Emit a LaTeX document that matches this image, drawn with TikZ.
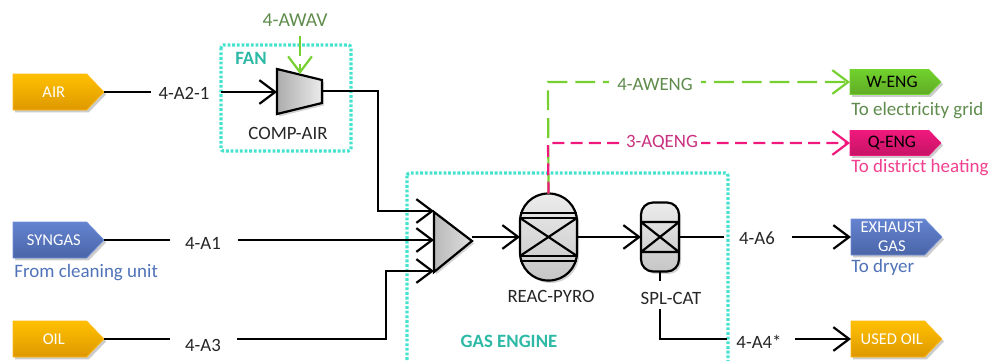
\documentclass[tikz,border=0pt]{standalone}
\usepackage{fontspec}
\setmainfont{Carlito}
\usepackage{xcolor}
\usetikzlibrary{arrows.meta,shapes.symbols,shadows}
\definecolor{tealbox}{HTML}{45E2D0}
\definecolor{tealtxt}{HTML}{2DB9A6}
\definecolor{greenline}{HTML}{76D02F}
\definecolor{greentxt}{HTML}{5F8B4C}
\definecolor{pinkline}{HTML}{F0187C}
\definecolor{pinktxt}{HTML}{F0408F}
\definecolor{pinkdark}{HTML}{C9307F}
\definecolor{bluetxt}{HTML}{4F72B8}
\definecolor{darktxt}{HTML}{262626}
\definecolor{orangetop}{HTML}{FFC000}
\definecolor{orangelow}{HTML}{DE9800}
\definecolor{orangeline}{HTML}{FFB915}
\definecolor{bluetop}{HTML}{6483D0}
\definecolor{bluelow}{HTML}{4A65A8}
\definecolor{blueline}{HTML}{6F8ED8}
\tikzset{
  tagbox/.style={signal,signal to=east,signal from=nowhere,signal pointer angle=92,anchor=west,
    minimum width=1.82cm,inner sep=0pt,outer sep=0pt,
    align=center,drop shadow={shadow xshift=1.2pt,shadow yshift=-1.4pt,opacity=.4}},
  orangetag/.style={tagbox,draw=orangeline,top color=orangetop,bottom color=orangelow,text=white,minimum height=.72cm,font=\fontsize{9.4}{11}\selectfont},
  bluetag/.style={tagbox,draw=blueline,top color=bluetop,bottom color=bluelow,text=white,minimum height=.72cm,font=\fontsize{9.4}{11}\selectfont},
  greentag/.style={tagbox,draw=greenline,top color=greenline!95!green,bottom color=greenline!82!black,text=black,minimum height=.5cm,font=\fontsize{10}{11}\selectfont},
  pinktag/.style={tagbox,draw=pinkline,top color=pinkline,bottom color=pinkline!82!black,text=black,minimum height=.5cm,font=\fontsize{10}{11}\selectfont},
  vessel/.style={draw=black,line width=1.25pt,top color=gray!15,bottom color=gray!45,inner sep=0pt,outer sep=0pt,
    drop shadow={shadow xshift=1.2pt,shadow yshift=-1.4pt,opacity=.35}},
  part/.style={line width=1.25pt,drop shadow={shadow xshift=1.2pt,shadow yshift=-1.4pt,opacity=.35}},
  flow/.style={line width=1.25pt,black},
  stream/.style={flow,-{Straight Barb[length=9pt,width=13.5pt,line width=1.25pt]}},
  greenstream/.style={stream,greenline,dash pattern=on 11.3pt off 4.5pt},
  pinkstream/.style={stream,pinkline,dash pattern=on 6.8pt off 3.6pt},
  lbl/.style={font=\fontsize{10.7}{12}\selectfont,text=darktxt,inner sep=0pt},
  unitbox/.style={draw=tealbox,line width=1.8pt,dash pattern=on 1.6pt off 1.05pt,rounded corners=1.5pt},
  unitlbl/.style={font=\fontsize{10.7}{12}\selectfont\bfseries,text=tealtxt,inner sep=0pt},
  side/.style={font=\fontsize{10.8}{12}\selectfont,inner sep=0pt,anchor=west}
}
\begin{document}
\begin{tikzpicture}[x=0.02cm,y=-0.02cm]
\useasboundingbox (0,0) rectangle (992,360);
\clip (0,0) rectangle (992,360);

% unit frames
\draw[unitbox] (221,45) rectangle (351,151);
\draw[unitbox] (407,173) rectangle (728,380);
\node[unitlbl] (fan) at (251,58) {FAN};
\node[unitlbl] (gasengine) at (509,341) {GAS ENGINE};

% streams in and out
\node[orangetag] (air) at (13,92) {AIR\hspace*{-.16cm}};
\node[bluetag] (syngas) at (13,240) {SYNGAS\hspace*{-.16cm}};
\node[orangetag] (oil) at (13,339) {OIL\hspace*{-.16cm}};
\node[greentag] (weng) at (850,82) {W-ENG\hspace*{-.1cm}};
\node[pinktag] (qeng) at (850,143) {Q-ENG\hspace*{-.1cm}};
\node[bluetag] (exhaust) at (851,237) {EXHAUST\hspace*{-.16cm}\\GAS\hspace*{-.16cm}};
\node[orangetag] (usedoil) at (851,339) {USED OIL\hspace*{-.16cm}};

\node[side,text=bluetxt] (fromclean) at (14,273) {From cleaning unit};
\node[side,text=greentxt] (toelec) at (851,111) {To electricity grid};
\node[side,text=pinktxt] (toheat) at (851,168) {To district heating};
\node[side,text=bluetxt] (todryer) at (851,267) {To dryer};

% compressor
\coordinate (compa) at (277,69);
\coordinate (compb) at (322,80);
\coordinate (compc) at (322,103);
\coordinate (compd) at (277,114);
\coordinate (compin) at (277,92);
\coordinate (compout) at (322,91);
\coordinate (comptop) at (300,74);
\draw[part,left color=gray!65,right color=gray!15] (compa) -- (compb) -- (compc) -- (compd) -- cycle;
\node[lbl] (compair) at (288,133) {COMP-AIR};

% mixer
\coordinate (mixa) at (434,212);
\coordinate (mixb) at (472,241);
\coordinate (mixc) at (434,272);
\coordinate (mixtop) at (434,211);
\coordinate (mixmid) at (434,240);
\coordinate (mixlow) at (434,271);
\draw[part,left color=gray!55,right color=gray!25] (mixa) -- (mixb) -- (mixc) -- cycle;

% reactor
\node[vessel,rounded corners=.56cm,minimum width=1.14cm,minimum height=1.74cm] (reac) at (548.5,237) {};
\draw[line width=1.25pt] (520,213) -- (577,213) (520,218) -- (577,218) (520,256) -- (577,256) (520,261) -- (577,261);
\draw[line width=1.25pt] (520,218) -- (577,256) (520,256) -- (577,218);
\node[lbl] (reacpyro) at (551,296) {REAC-PYRO};

% splitter
\node[vessel,rounded corners=.24cm,minimum width=.76cm,minimum height=1.38cm] (spl) at (660,237) {};
\draw[line width=1.25pt] (641,222) -- (679,222) (641,252) -- (679,252) (641,222) -- (679,252) (641,252) -- (679,222);
\node[lbl] (splcat) at (671,298) {SPL-CAT};

% connections
\draw[flow] (air.east) -- (151,92);
\draw[stream] (221,92) -- (compin);
\draw[flow] (syngas.east) -- (170,240);
\draw[stream] (238,240) -- (mixmid);
\draw[flow] (oil.east) -- (170,339);
\draw[stream] (237,339) -- (386,339) -- (386,271) -- (mixlow);
\draw[stream] (compout) -- (378,91) -- (378,211) -- (mixtop);
\draw[stream] (472,237) -- (reac.west);
\draw[stream] (reac.east) -- (spl.west);
\draw[flow] (spl.east) -- (724,237);
\draw[stream] (792,237) -- (exhaust.west);
\draw[flow] (spl.south) -- (660,281);
\draw[flow] (660,309) -- (660,339) -- (727,339);
\draw[stream] (795,339) -- (usedoil.west);
\draw[greenstream] (300,36) -- (comptop);
\draw[greenstream] (reac.north) -- (548,82) -- (weng.west);
\draw[pinkstream] (reac.north) -- (548,143) -- (qeng.west);

% labels on the lines
\node[lbl] (a21) at (184,93) {4-A2-1};
\node[lbl] (a1) at (203,243) {4-A1};
\node[lbl] (a3) at (203,345) {4-A3};
\node[lbl] (a6) at (757,238) {4-A6};
\node[lbl] (a4) at (759,342) {4-A4*};
\node[lbl,text=greentxt,font=\fontsize{11.2}{12}\selectfont] (awav) at (295,20) {4-AWAV};
\node[lbl,text=greentxt,fill=white,inner xsep=5pt] (aweng) at (655,84) {4-AWENG};
\node[lbl,text=pinkdark,fill=white,inner xsep=1.5pt] (aqeng) at (662,143) {3-AQENG};
\end{tikzpicture}
\end{document}
